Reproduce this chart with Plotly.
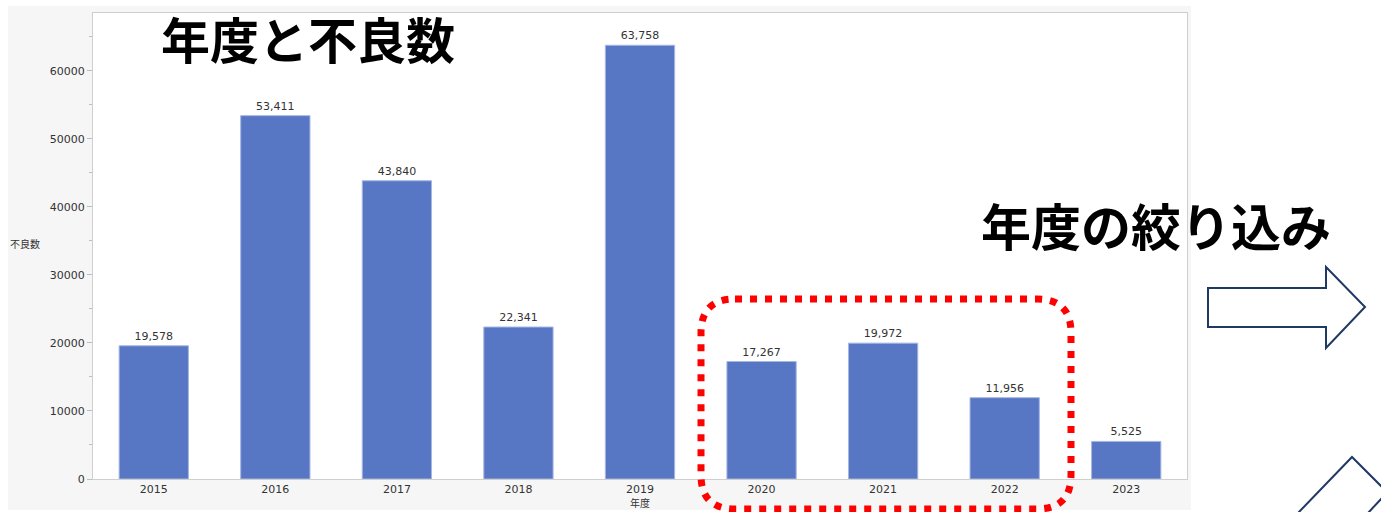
import plotly.graph_objects as go

# ---- data ----
years = ["2015", "2016", "2017", "2018", "2019", "2020", "2021", "2022", "2023"]
defects = [19578, 53411, 43840, 22341, 63758, 17267, 19972, 11956, 5525]
y_ticks = [0, 10000, 20000, 30000, 40000, 50000, 60000]

W, H = 1381, 512
L, R, T, B = 93, 1187, 13, 479  # plot area in pixels


def px(x):
    return (x - L) / (R - L)


def py(y):
    return (B - y) / (B - T)


def path(points, close=False):
    s = ""
    for cmd, x, y in points:
        s += f"{cmd}{px(x):.5f},{py(y):.5f} "
    if close:
        s += "Z"
    return s


fig = go.Figure()
fig.add_trace(go.Bar(
    x=years, y=defects, width=0.57,
    marker=dict(color="#5777c4", line=dict(color="#a6b6e2", width=1)),
    texttemplate="%{y:,}", textposition="outside", cliponaxis=False,
    textfont=dict(family="DejaVu Sans", size=11, color="#333333"),
    hoverinfo="skip",
))

shapes = []
# gray panel behind chart
shapes.append(dict(type="rect", xref="paper", yref="paper", layer="below",
                   x0=px(8), x1=px(1191), y0=py(510), y1=py(6),
                   fillcolor="#f6f6f6", line=dict(width=0)))
# white plot area
shapes.append(dict(type="rect", xref="paper", yref="paper", layer="below",
                   x0=0, x1=1, y0=0, y1=1,
                   fillcolor="#ffffff", line=dict(width=0)))
# red dotted rounded rectangle
x0, x1, y0, y1, r = 701, 1071, 299, 509, 34
rr = (f"M{px(x0 + r):.5f},{py(y0):.5f} L{px(x1 - r):.5f},{py(y0):.5f} "
      f"Q{px(x1):.5f},{py(y0):.5f} {px(x1):.5f},{py(y0 + r):.5f} "
      f"L{px(x1):.5f},{py(y1 - r):.5f} "
      f"Q{px(x1):.5f},{py(y1):.5f} {px(x1 - r):.5f},{py(y1):.5f} "
      f"L{px(x0 + r):.5f},{py(y1):.5f} "
      f"Q{px(x0):.5f},{py(y1):.5f} {px(x0):.5f},{py(y1 - r):.5f} "
      f"L{px(x0):.5f},{py(y0 + r):.5f} "
      f"Q{px(x0):.5f},{py(y0):.5f} {px(x0 + r):.5f},{py(y0):.5f} Z")
shapes.append(dict(type="path", xref="paper", yref="paper", path=rr,
                   line=dict(color="#ff0000", width=7, dash="7px,8px")))
# right arrow outline
arrow = path([("M", 1208, 288), ("L", 1326, 288), ("L", 1326, 267), ("L", 1365, 307),
              ("L", 1326, 348), ("L", 1326, 327), ("L", 1208, 327)], close=True)
shapes.append(dict(type="path", xref="paper", yref="paper", path=arrow,
                   fillcolor="white", line=dict(color="#1f3864", width=2)))
# partial rotated arrow at bottom right
arrow2 = path([("M", 1298, 513), ("L", 1352, 457), ("L", 1382, 487)])
shapes.append(dict(type="path", xref="paper", yref="paper", path=arrow2,
                   line=dict(color="#1f3864", width=2)))
arrow3 = path([("M", 1368, 513), ("L", 1382, 498)])
shapes.append(dict(type="path", xref="paper", yref="paper", path=arrow3,
                   line=dict(color="#1f3864", width=2)))

annotations = [
    dict(text="<b>年度と不良数</b>", x=px(308), y=py(37), xref="paper", yref="paper",
         showarrow=False, xanchor="center", yanchor="middle",
         font=dict(family="Noto Sans CJK JP", size=49, color="#000000")),
    dict(text="<b>年度の絞り込み</b>", x=px(1156), y=py(224), xref="paper", yref="paper",
         showarrow=False, xanchor="center", yanchor="middle",
         font=dict(family="Noto Sans CJK JP", size=50, color="#000000")),
    dict(text="不良数", x=px(8), y=py(243), xref="paper", yref="paper",
         showarrow=False, xanchor="left", yanchor="middle",
         font=dict(family="Noto Sans CJK JP", size=10, color="#333333")),
    dict(text="年度", x=px(640), y=py(503), xref="paper", yref="paper",
         showarrow=False, xanchor="center", yanchor="middle",
         font=dict(family="Noto Sans CJK JP", size=10, color="#333333")),
]

fig.update_layout(
    width=W, height=H,
    margin=dict(l=L, r=W - R, t=T, b=H - B, pad=0),
    paper_bgcolor="white", plot_bgcolor="white",
    showlegend=False, bargap=0.43,
    shapes=shapes, annotations=annotations,
    font=dict(family="DejaVu Sans", size=11, color="#333333"),
)
fig.update_xaxes(type="category", range=[-0.5, 8.5], showgrid=False, zeroline=False,
                 showline=True, mirror=True, linecolor="#cfcfcf", linewidth=1,
                 ticks="", tickfont=dict(family="DejaVu Sans", size=11, color="#333333"))
fig.update_yaxes(range=[0, 68500], tickvals=y_ticks, ticktext=[str(v) for v in y_ticks],
                 showgrid=False, zeroline=False,
                 showline=True, mirror=True, linecolor="#cfcfcf", linewidth=1,
                 ticks="outside", ticklen=5, tickcolor="#bdbdbd",
                 minor=dict(ticks="outside", tickvals=[5000, 15000, 25000, 35000, 45000, 55000, 65000],
                            ticklen=3, tickcolor="#bdbdbd"),
                 tickfont=dict(family="DejaVu Sans", size=11, color="#333333"))

fig.write_html("out.html")
